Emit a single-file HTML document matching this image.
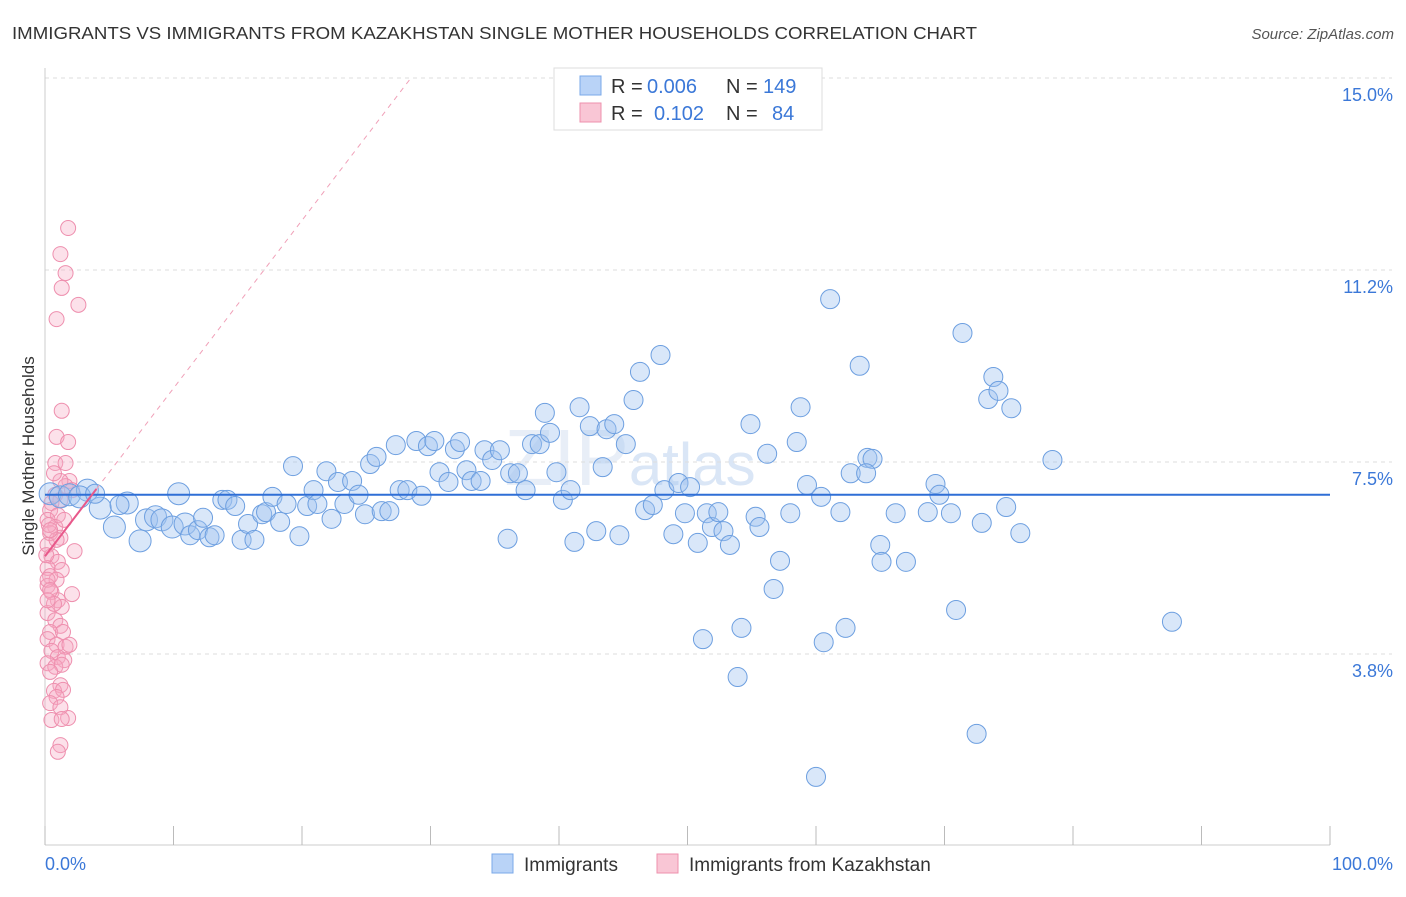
<!DOCTYPE html>
<html><head><meta charset="utf-8"><style>
body{margin:0;background:#fff;font-family:"Liberation Sans",sans-serif;}
svg text{font-family:"Liberation Sans",sans-serif;}
</style></head><body>
<svg id="chart" width="1406" height="892">
<text x="12" y="39" font-size="17.5" fill="#333" textLength="965" lengthAdjust="spacingAndGlyphs">IMMIGRANTS VS IMMIGRANTS FROM KAZAKHSTAN SINGLE MOTHER HOUSEHOLDS CORRELATION CHART</text>
<text x="1394" y="39" font-size="15" fill="#555" font-style="italic" text-anchor="end">Source: ZipAtlas.com</text>
<text x="0" y="0" transform="translate(34,456) rotate(-90)" font-size="17" fill="#333" text-anchor="middle">Single Mother Households</text>
<text x="630" y="485" font-size="80" fill="#e8eef7" font-family="Liberation Serif" text-anchor="middle">ZIP<tspan font-family="Liberation Sans" font-size="60" fill="#dae6f6">atlas</tspan></text>
<g id="grid"></g><g id="axes"></g><g id="pinkPts"></g><g id="bluePts"></g><g id="lines"></g>
<g>
<rect x="554" y="68" width="268" height="62" fill="#fff" stroke="#ddd"/>
<rect x="580" y="76" width="21" height="19" fill="#b9d3f7" stroke="#7aa8e8"/>
<text x="611" y="93" font-size="20" fill="#333">R =</text>
<text x="647" y="93" font-size="20" fill="#3b78d8">0.006</text>
<text x="726" y="93" font-size="20" fill="#333">N =</text>
<text x="763" y="93" font-size="20" fill="#3b78d8">149</text>
<rect x="580" y="103" width="21" height="19" fill="#f9c6d5" stroke="#ee90ad"/>
<text x="611" y="120" font-size="20" fill="#333">R =</text>
<text x="654" y="120" font-size="20" fill="#3b78d8">0.102</text>
<text x="726" y="120" font-size="20" fill="#333">N =</text>
<text x="772" y="120" font-size="20" fill="#3b78d8">84</text>
</g>
<g>
<rect x="492" y="854" width="21" height="19" fill="#b9d3f7" stroke="#7aa8e8"/>
<text x="524" y="871" font-size="19" fill="#333">Immigrants</text>
<rect x="657" y="854" width="21" height="19" fill="#f9c6d5" stroke="#ee90ad"/>
<text x="689" y="871" font-size="19" fill="#333">Immigrants from Kazakhstan</text>
</g>
</svg>
<script>
const yTicks=[3.75,7.5,11.25,15];
const yTickLabels=["3.8%","7.5%","11.2%","15.0%"];
const xTickCount=10;
const blueX=[0.4,1.2,1.9,3.3,2.7,4.3,5.4,6.4,7.4,7.9,8.6,9.1,9.9,10.4,10.9,11.3,11.9,12.3,12.8,13.2,13.8,14.2,14.8,15.3,15.8,16.3,16.9,17.2,17.7,18.3,18.8,19.3,19.8,20.4,20.9,21.2,21.9,22.3,22.8,23.3,23.9,24.4,24.9,25.3,25.8,26.2,26.8,27.3,27.6,28.2,28.9,29.3,29.8,30.3,30.7,31.4,31.9,32.3,32.8,33.2,33.9,34.2,34.8,35.4,36.2,36.8,37.4,36.0,37.9,38.5,38.9,39.3,39.8,40.3,40.9,41.2,41.6,42.4,42.9,43.4,43.7,44.3,44.7,45.2,45.8,46.3,46.7,47.3,47.9,48.2,48.9,49.3,49.8,50.2,50.8,51.2,51.5,51.9,52.4,52.8,53.3,53.9,54.2,54.9,55.3,55.6,56.2,56.7,57.2,58.0,58.5,58.8,59.3,60.0,60.4,60.6,61.1,61.9,62.3,62.7,63.4,64.0,64.4,65.0,65.1,66.2,67.0,68.7,69.3,69.6,70.5,70.9,71.4,72.9,73.4,73.8,74.2,74.8,75.2,75.9,78.4,87.7,72.5,63.9,5.8,3.9];
const blueY=[6.88,6.82,6.86,6.95,6.82,6.60,6.23,6.70,5.96,6.37,6.43,6.37,6.23,6.88,6.29,6.07,6.17,6.41,6.03,6.07,6.76,6.76,6.64,5.98,6.29,5.98,6.48,6.52,6.82,6.33,6.68,7.42,6.05,6.64,6.95,6.68,7.32,6.39,7.11,6.68,7.13,6.86,6.48,7.46,7.60,6.54,6.54,7.83,6.95,6.95,7.91,6.84,7.81,7.91,7.30,7.11,7.75,7.89,7.34,7.13,7.13,7.73,7.54,7.73,7.28,7.28,6.95,6.00,7.85,7.85,8.46,8.07,7.30,6.76,6.95,5.94,8.57,8.20,6.15,7.40,8.14,8.24,6.07,7.85,8.71,9.26,6.56,6.66,9.59,6.95,6.09,7.09,6.50,7.01,5.92,4.04,6.50,6.23,6.52,6.15,5.88,3.30,4.26,8.24,6.43,6.23,7.66,5.02,5.57,6.50,7.89,8.57,7.05,1.35,6.82,3.98,10.68,6.52,4.26,7.28,9.38,7.58,7.56,5.88,5.55,6.50,5.55,6.52,7.07,6.86,6.50,4.61,10.02,6.31,8.73,9.16,8.89,6.62,8.55,6.11,7.54,4.38,2.19,7.28,6.66,6.88];
const pinkX=[1.8,1.2,1.6,1.3,2.6,0.9,1.3,0.9,1.8,0.8,1.9,1.6,0.8,1.2,0.5,0.4,1.0,0.2,0.8,0.4,1.2,0.2,2.3,0.5,1.0,0.2,1.3,0.4,0.9,0.2,0.5,2.1,1.0,1.3,0.2,0.8,1.2,0.4,1.4,0.2,0.9,1.6,1.9,0.5,1.0,1.5,0.2,0.8,1.3,0.4,1.2,0.7,1.4,0.9,0.4,1.2,1.8,0.5,1.3,1.2,1.0,0.2,0.4,0.7,1.5,0.3,0.9,0.1,0.2,1.2,2.1,0.4,0.7,1.6];
const pinkY=[12.07,11.56,11.19,10.90,10.57,10.29,8.50,7.99,7.89,7.48,7.13,7.03,6.86,6.76,6.70,6.56,6.46,6.37,6.23,6.11,6.02,5.88,5.76,5.66,5.55,5.43,5.39,5.27,5.20,5.08,4.96,4.92,4.80,4.67,4.55,4.41,4.30,4.18,4.18,4.04,3.93,3.89,3.93,3.81,3.69,3.63,3.57,3.50,3.54,3.40,3.14,3.03,3.05,2.91,2.79,2.71,2.50,2.46,2.48,1.97,1.84,5.20,5.00,4.73,6.37,6.27,5.98,5.68,4.80,7.13,6.95,6.17,7.28,7.48];
const blueTrend=[6.86,6.86];
const pinkTrend=[5.66,0.328];
const X0=45,X1=1330,YB=654,PXU=51.2;
const xs=v=>X0+(X1-X0)*v/100;
const ys=v=>YB-(v-3.75)*PXU;
const NS="http://www.w3.org/2000/svg";
function mk(t,p,a){const e=document.createElementNS(NS,t);for(const k in a)e.setAttribute(k,a[k]);p.appendChild(e);return e;}
const grid=document.getElementById('grid'),axes=document.getElementById('axes');
yTicks.forEach((v,i)=>{
 const l=mk('line',grid,{x1:X0,x2:1392,y1:ys(v),y2:ys(v),stroke:'#ddd','stroke-dasharray':'4,4'});
 
 
 const t=mk('text',axes,{x:1393,y:ys(v)+23,'font-size':18,fill:'#3b78d8','text-anchor':'end'});
 t.textContent=yTickLabels[i];
 
 
});
const ax=mk('line',axes,{x1:X0,x2:X0,y1:68,y2:845,stroke:'#ccc'});


const bx=mk('line',axes,{x1:X0,x2:X1,y1:845,y2:845,stroke:'#ccc'});


for(let i=0;i<=xTickCount;i++){
 const tk=mk('line',axes,{x1:xs(i*10),x2:xs(i*10),y1:826,y2:845,stroke:'#bbb'});
 
 
}
const xl=mk('text',axes,{x:45,y:870,'font-size':18,fill:'#3b78d8'});xl.textContent='0.0%';


const xr=mk('text',axes,{x:1393,y:870,'font-size':18,fill:'#3b78d8','text-anchor':'end'});xr.textContent='100.0%';


const pp=document.getElementById('pinkPts');
pinkX.forEach((x,i)=>{
 const c=mk('circle',pp,{cx:xs(x),cy:ys(pinkY[i]),r:7.5,fill:'rgba(246,170,196,0.35)',stroke:'#ee8fae','stroke-width':1});
 
 
});
const bp=document.getElementById('bluePts');
blueX.forEach((x,i)=>{
 const r=(x<12&&i<15)?11:9.5;
 const c=mk('circle',bp,{cx:xs(x),cy:ys(blueY[i]),r:r,fill:'rgba(160,196,240,0.4)',stroke:'#6d9fe0','stroke-width':1});
 
 
});
const lg=document.getElementById('lines');
const bl=mk('line',lg,{x1:xs(0),x2:xs(100),y1:ys(blueTrend[0]),y2:ys(blueTrend[1]),stroke:'#2f6fd6','stroke-width':2});


const pv=x=>pinkTrend[0]+pinkTrend[1]*x;
const xEnd=(15-pinkTrend[0])/pinkTrend[1];
const pd=mk('line',lg,{x1:xs(4),x2:xs(xEnd),y1:ys(pv(4)),y2:ys(15),stroke:'#f0a0b8','stroke-width':1,'stroke-dasharray':'5,5'});


const ps=mk('line',lg,{x1:xs(0),x2:xs(4),y1:ys(pv(0)),y2:ys(pv(4)),stroke:'#e8588a','stroke-width':2});


</script>
</body></html>
